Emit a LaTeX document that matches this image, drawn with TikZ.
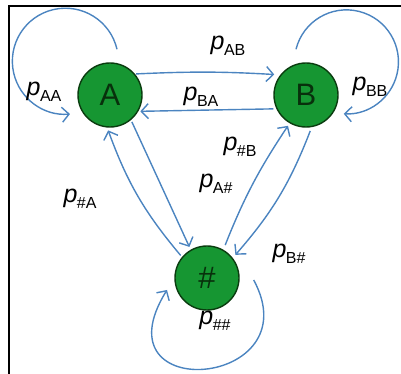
\documentclass[tikz,border=0pt]{standalone}
\usepackage{fontspec}
\setmainfont{Liberation Sans}
\usepackage{tikz}
\usetikzlibrary{arrows.meta}
\definecolor{stategreen}{RGB}{22,150,50}
\definecolor{stateline}{RGB}{10,60,15}
\definecolor{edgeblue}{RGB}{75,132,192}
% transition probability label
\newcommand{\prob}[1]{\textit{p}\kern-0.5pt\raisebox{-5.5pt}{\fontsize{16}{16}\selectfont #1}}

\begin{document}
\begin{tikzpicture}[x=1pt,y=1pt,>={Straight Barb[length=7pt,width=15pt]},
  state/.style={circle,draw=stateline,line width=1.4pt,fill=stategreen,minimum size=64pt,inner sep=0pt,font=\fontsize{31}{31}\selectfont\color{stateline!80!black}},
  edge/.style={->,edgeblue,line width=1.4pt},
  lbl/.style={font=\fontsize{25}{25}\selectfont,inner sep=0pt}]
\useasboundingbox (0,0) rectangle (401,374);
\draw[line width=2pt] (9,0) -- (9,367.5) -- (401,367.5);
% states
\node[state] (A) at (110,279) {A};
\node[state] (B) at (306,279) {B};
\node[state] (H) at (207,96) {\#};
% transitions between states
\draw[edge,shorten <=1pt,shorten >=6pt] (A.40) to[bend left=3] (B.142);
\draw[edge,shorten <=3pt,shorten >=2pt] (B.205) -- (A.-30);
\draw[edge,shorten <=2pt,shorten >=3pt] (A.-50) -- (H.120);
\draw[edge,shorten <=2pt,shorten >=3pt] (H.140) to[bend left=10] (A.-95);
\draw[edge,shorten <=5pt,shorten >=3pt] (H.60) to[bend left=6] (B.-120);
\draw[edge,shorten <=4pt,shorten >=4pt] (B.-80) to[bend left=10] (H.38);
% self loops
\draw[edge] (A.north) ++(7,13) arc[start angle=13,end angle=275,radius=53];
\draw[edge] (B.north) ++(-10,13) arc[start angle=166,end angle=-93,radius=52];
\draw[edge] (H.east) ++(14,-2) .. controls (312,-14) and (95,-32) .. (167,84);
% labels
\node[lbl] (pAA) at (44,282) {\prob{AA}};
\node[lbl] (pBB) at (370,287) {\prob{BB}};
\node[lbl] (pAB) at (228,328) {\prob{AB}};
\node[lbl] (pBA) at (201,277) {\prob{BA}};
\node[lbl] (pHB) at (240,227) {\prob{\#B}};
\node[lbl] (pAH) at (216,190) {\prob{A\#}};
\node[lbl] (pHA) at (80,175) {\prob{\#A}};
\node[lbl] (pBH) at (289,120) {\prob{B\#}};
\node[lbl] (pHH) at (215,53) {\prob{\#\#}};
\end{tikzpicture}
\end{document}
